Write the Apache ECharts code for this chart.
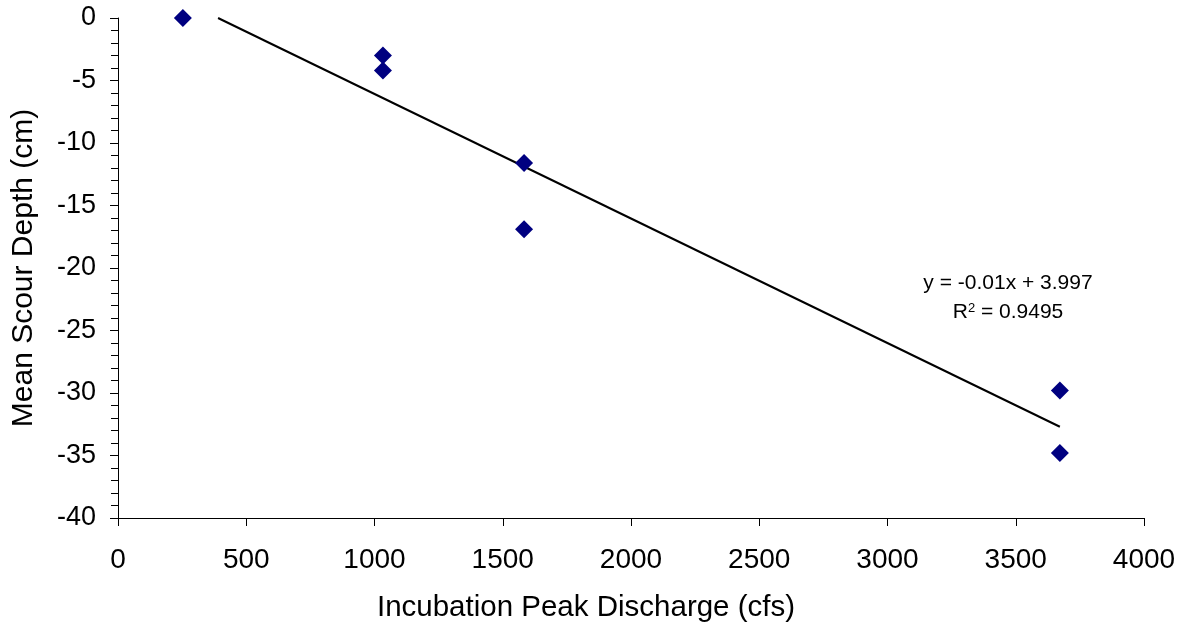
<!DOCTYPE html>
<html>
<head>
<meta charset="utf-8">
<script src="https://cdn.jsdelivr.net/npm/echarts@6/dist/echarts.min.js"></script>
<style>
  html, body { margin: 0; padding: 0; background: #fff; }
  #chart { width: 1183px; height: 623px; }
</style>
</head>
<body>
<div id="chart"></div>
<script>
// measured points (cfs, cm)
const discharge = [253, 1033, 1033, 1583, 1583, 3672, 3672]
const scourDepth = [0, -3.0, -4.2, -11.6, -16.9, -29.8, -34.8]
// trendline ends as drawn in the picture
const trendX = [390, 3672]
const trendY = [0, -32.7]
const xTicks = [0, 500, 1000, 1500, 2000, 2500, 3000, 3500, 4000]
const yTicks = [-40, -35, -30, -25, -20, -15, -10, -5, 0]

const FONT = '"Liberation Sans", Arial, sans-serif'
const chart = echarts.init(document.getElementById('chart'))

const points = discharge.map((x, i) => [x, scourDepth[i]])
const trend = trendX.map((x, i) => [x, trendY[i]])

const option = {
    animation: false,
    backgroundColor: '#fff',
    grid: { left: 118, right: 39, top: 18, bottom: 105, outerBoundsMode: 'none', containLabel: false },
    xAxis: {
        type: 'value',
        min: xTicks[0],
        max: xTicks[xTicks.length - 1],
        interval: 500,
        name: 'Incubation Peak Discharge (cfs)',
        nameLocation: 'middle',
        nameGap: 75,
        // title sits a bit left of the plot centre in the original
        nameTextStyle: { fontFamily: FONT, fontSize: 29.5, color: '#000', padding: [0, 90, 0, 0] },
        axisLine: { onZero: false, lineStyle: { color: '#000', width: 1 } },
        axisTick: { inside: false, length: 8, lineStyle: { color: '#000' } },
        axisLabel: { margin: 28, fontFamily: FONT, fontSize: 28, color: '#000', formatter: v => String(v) },
        splitLine: { show: false }
    },
    yAxis: {
        type: 'value',
        min: yTicks[0],
        max: yTicks[yTicks.length - 1],
        interval: 5,
        name: 'Mean Scour Depth (cm)',
        nameLocation: 'middle',
        nameGap: 79,
        nameTextStyle: { fontFamily: FONT, fontSize: 30, color: '#000' },
        axisLine: { show: true, onZero: false, lineStyle: { color: '#000', width: 1 } },
        axisTick: { inside: false, length: 8, lineStyle: { color: '#000' } },
        minorTick: { show: true, splitNumber: 5, length: 7, lineStyle: { color: '#000' } },
        axisLabel: { margin: 22, fontFamily: FONT, fontSize: 27, color: '#000', formatter: v => String(v) },
        splitLine: { show: false }
    },
    series: [
        {
            type: 'line',
            data: trend,
            symbol: 'none',
            lineStyle: { color: '#000', width: 2 },
            clip: true,
            z: 2
        },
        {
            type: 'scatter',
            data: points,
            symbol: 'diamond',
            symbolSize: [18, 18],
            itemStyle: { color: '#000080', opacity: 1 },
            z: 3
        }
    ],
    graphic: [
        {
            type: 'text',
            x: 1008,
            y: 283,
            style: {
                text: 'y = -0.01x + 3.997',
                fontFamily: FONT,
                fontSize: 21,
                fill: '#000',
                align: 'center',
                verticalAlign: 'middle'
            }
        },
        {
            type: 'text',
            x: 1008,
            y: 312,
            style: {
                text: '{b|R}{s|2}{b| = 0.9495}',
                fontFamily: FONT,
                align: 'center',
                verticalAlign: 'middle',
                rich: {
                    b: { fontFamily: FONT, fontSize: 21, fill: '#000', color: '#000', verticalAlign: 'bottom' },
                    s: { fontFamily: FONT, fontSize: 13, fill: '#000', color: '#000', verticalAlign: 'top' }
                }
            }
        }
    ]
}

chart.setOption(option)
</script>
</body>
</html>
